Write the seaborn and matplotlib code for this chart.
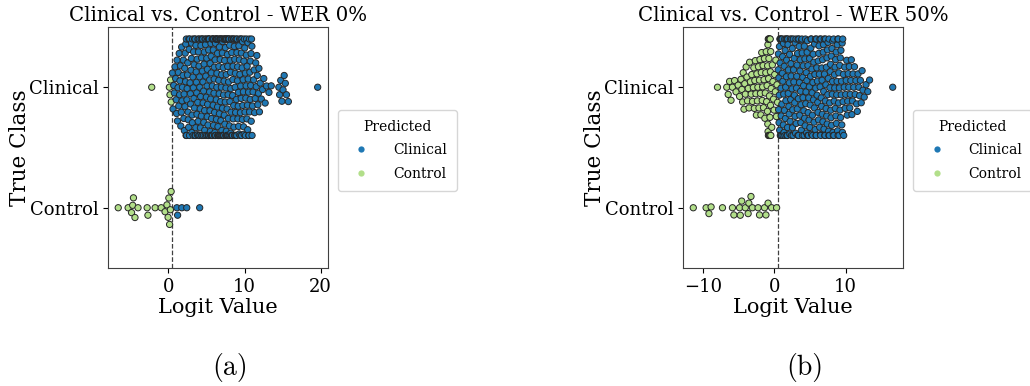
import matplotlib
matplotlib.use("Agg")
import matplotlib.pyplot as plt
import pandas as pd
import seaborn as sns
from matplotlib.lines import Line2D

# Logit values per true class, WER 0%
wer0_clinical = [
    -2.2, 0.12, 0.2, 0.28, 0.36,
    0.52, 0.6, 0.69, 0.77, 0.86, 0.94,
    1.02, 1.07, 1.13, 1.18, 1.25, 1.29, 1.35, 1.41, 1.46, 1.5, 1.57, 1.62, 1.69, 1.73, 1.78,
    1.84, 1.91, 1.96,
    2.02, 2.05, 2.09, 2.13, 2.16, 2.2, 2.24, 2.27, 2.31, 2.35, 2.38, 2.42, 2.45, 2.5, 2.53,
    2.57, 2.6, 2.65, 2.68, 2.71, 2.76, 2.79, 2.83, 2.88, 2.91, 2.96,
    3.01, 3.04, 3.08, 3.11, 3.14, 3.17, 3.21, 3.24, 3.27, 3.3, 3.34, 3.37, 3.41, 3.44, 3.47,
    3.5, 3.54, 3.58, 3.6, 3.64, 3.67, 3.71, 3.74, 3.77, 3.8, 3.84, 3.88, 3.9, 3.94, 3.97,
    4.01, 4.04, 4.08, 4.11, 4.13, 4.17, 4.2, 4.22, 4.26, 4.29, 4.32, 4.35, 4.37, 4.41, 4.44, 4.46,
    4.5, 4.53, 4.55, 4.59, 4.62, 4.64, 4.68, 4.71, 4.74, 4.76, 4.8, 4.83, 4.87, 4.9, 4.93, 4.97,
    5.01, 5.03, 5.06, 5.09, 5.11, 5.14, 5.15, 5.19, 5.22, 5.24, 5.27, 5.28, 5.32, 5.35, 5.37,
    5.4, 5.41, 5.45, 5.48, 5.5, 5.53, 5.54, 5.58, 5.61, 5.63, 5.66, 5.67, 5.71, 5.74, 5.76,
    5.79, 5.8, 5.84, 5.87, 5.89, 5.92, 5.95, 5.98,
    6.0, 6.02, 6.05, 6.06, 6.1, 6.13, 6.14, 6.18, 6.2, 6.21, 6.25, 6.28, 6.3, 6.31, 6.35,
    6.37, 6.4, 6.44, 6.45, 6.47, 6.5, 6.53, 6.56, 6.57, 6.6, 6.62, 6.66, 6.69, 6.7, 6.72,
    6.75, 6.79, 6.8, 6.82, 6.85, 6.88, 6.9, 6.93, 6.95, 6.99,
    7.01, 7.03, 7.04, 7.08, 7.1, 7.12, 7.15, 7.17, 7.2, 7.24, 7.25, 7.27, 7.3, 7.33, 7.36,
    7.38, 7.4, 7.42, 7.46, 7.48, 7.5, 7.52, 7.55, 7.59, 7.6, 7.63, 7.65, 7.67, 7.7, 7.74,
    7.76, 7.78, 7.8, 7.83, 7.86, 7.87, 7.9, 7.93, 7.96, 7.98,
    8.02, 8.04, 8.07, 8.1, 8.12, 8.15, 8.18, 8.2, 8.23, 8.27, 8.29, 8.31, 8.34, 8.38, 8.4,
    8.43, 8.46, 8.48, 8.51, 8.54, 8.57, 8.6, 8.62, 8.65, 8.68, 8.71, 8.73, 8.76, 8.79, 8.82,
    8.85, 8.87, 8.9, 8.93, 8.96, 8.99,
    9.03, 9.06, 9.09, 9.12, 9.16, 9.19, 9.22, 9.25, 9.29, 9.32, 9.35, 9.38, 9.42, 9.45, 9.48,
    9.51, 9.55, 9.58, 9.61, 9.64, 9.68, 9.71, 9.74, 9.77, 9.81, 9.84, 9.87, 9.9, 9.94, 9.97,
    10.02, 10.05, 10.1, 10.12, 10.16, 10.2, 10.23, 10.26, 10.31, 10.33, 10.37, 10.41, 10.44,
    10.47, 10.52, 10.55, 10.58, 10.63, 10.65, 10.69, 10.74, 10.76, 10.8, 10.85, 10.87, 10.91,
    10.96, 10.98,
    11.04, 11.11, 11.19, 11.25, 11.32, 11.4, 11.46, 11.53, 11.61, 11.67, 11.74, 11.82, 11.88, 11.95,
    12.05, 12.2, 12.36, 12.52, 12.7, 12.88,
    13.2, 13.5,
    14.5, 14.6, 14.75, 14.9, 15.05, 15.2, 15.35, 15.5, 15.75,
    19.6,
]
wer0_control = [
    -6.6, -5.3, -4.85, -4.7, -4.6, -4.4, -4.0, -2.8, -2.7, -1.75, -0.95, -0.45,
    -0.2, -0.05, 0.05, 0.15, 0.25, 0.35,
    1.1, 1.2, 1.75, 2.4, 4.1,
]

# Logit values per true class, WER 50%
wer50_clinical = [
    -8.0,
    -6.7, -6.5, -6.3, -6.1, -5.9, -5.6, -5.4, -5.1, -4.9, -4.7,
    -4.58, -4.47, -4.39, -4.28, -4.17, -4.09, -3.98, -3.87, -3.79, -3.68, -3.57, -3.49, -3.38,
    -3.27, -3.19, -3.08,
    -2.97, -2.9, -2.83, -2.76, -2.69, -2.61, -2.54, -2.47, -2.4, -2.33, -2.25, -2.18, -2.11, -2.04,
    -1.97, -1.91, -1.85, -1.79, -1.72, -1.66, -1.6, -1.54, -1.47, -1.41, -1.35, -1.29, -1.22,
    -1.16, -1.1, -1.04,
    -0.99, -0.96, -0.94, -0.92, -0.9, -0.87, -0.85, -0.83, -0.8, -0.78, -0.76, -0.73, -0.71,
    -0.69, -0.66, -0.64, -0.62, -0.6, -0.57, -0.55, -0.53, -0.51,
    -0.46, -0.38, -0.3, -0.22, -0.14, -0.06, 0.03, 0.11, 0.19, 0.27, 0.35, 0.43,
    0.52, 0.55, 0.58, 0.61, 0.64, 0.67, 0.7, 0.73, 0.76, 0.79, 0.82, 0.85, 0.88, 0.91, 0.94, 0.97,
    1.01, 1.04, 1.08, 1.11, 1.14, 1.17, 1.21, 1.24, 1.27, 1.3, 1.34, 1.37, 1.4, 1.44, 1.47,
    1.5, 1.53, 1.57, 1.6, 1.63, 1.67, 1.7, 1.73, 1.76, 1.8, 1.83, 1.86, 1.9, 1.93, 1.96,
    2.01, 2.05, 2.08, 2.12, 2.16, 2.19, 2.23, 2.27, 2.31, 2.34, 2.38, 2.42, 2.46, 2.5, 2.53,
    2.57, 2.61, 2.65, 2.68, 2.72, 2.76, 2.8, 2.84, 2.88, 2.92, 2.96,
    3.02, 3.05, 3.09, 3.13, 3.17, 3.2, 3.24, 3.28, 3.32, 3.36, 3.39, 3.43, 3.47, 3.51, 3.55,
    3.58, 3.62, 3.66, 3.7, 3.74, 3.78, 3.81, 3.85, 3.89, 3.93, 3.97,
    4.01, 4.04, 4.08, 4.12, 4.16, 4.19, 4.23, 4.27, 4.31, 4.35, 4.39, 4.42, 4.46, 4.5, 4.54,
    4.58, 4.62, 4.65, 4.69, 4.73, 4.77, 4.81, 4.85, 4.89, 4.93, 4.97,
    5.02, 5.06, 5.1, 5.13, 5.17, 5.21, 5.25, 5.29, 5.32, 5.36, 5.4, 5.44, 5.48, 5.52, 5.56,
    5.6, 5.63, 5.67, 5.71, 5.75, 5.79, 5.83, 5.87, 5.9, 5.94, 5.98,
    6.03, 6.07, 6.11, 6.14, 6.18, 6.22, 6.26, 6.3, 6.34, 6.38, 6.41, 6.45, 6.49, 6.53, 6.57,
    6.61, 6.65, 6.68, 6.72, 6.76, 6.8, 6.84, 6.88, 6.91, 6.95, 6.99,
    7.02, 7.06, 7.1, 7.14, 7.17, 7.21, 7.25, 7.29, 7.33, 7.37, 7.4, 7.44, 7.48, 7.52, 7.56,
    7.6, 7.64, 7.67, 7.71, 7.75, 7.79, 7.83, 7.87, 7.9, 7.94, 7.98,
    8.03, 8.07, 8.11, 8.15, 8.18, 8.22, 8.26, 8.3, 8.34, 8.38, 8.42, 8.46, 8.5, 8.54, 8.58,
    8.62, 8.66, 8.7, 8.74, 8.78, 8.82, 8.86, 8.9, 8.93, 8.96, 8.99,
    9.03, 9.07, 9.11, 9.16, 9.2, 9.24, 9.28, 9.33, 9.37, 9.41, 9.45, 9.5, 9.54, 9.58, 9.63, 9.68,
    9.72, 9.79, 9.86, 9.93, 10.0, 10.07, 10.14, 10.21, 10.28, 10.35, 10.43, 10.5, 10.57,
    10.64, 10.72, 10.79, 10.87, 10.95,
    11.03, 11.13, 11.23, 11.33, 11.43, 11.53, 11.63, 11.73, 11.84, 11.95, 12.06, 12.18,
    12.3, 12.42,
    12.6, 12.85, 13.1, 13.35,
    16.6,
]
wer50_control = [
    -11.4, -9.6, -9.2, -8.9, -7.3, -5.9, -5.7, -4.9, -4.8, -4.6, -4.1,
    -3.7, -3.6, -3.3, -3.1, -2.3, -2.1, -1.4, -1.2, -0.9, -0.4, 0.3,
]

classes = ["Clinical", "Control"]
titles = ["Clinical vs. Control - WER 0%", "Clinical vs. Control - WER 50%"]
captions = ["(a)", "(b)"]
threshold = 0.5

palette = sns.color_palette("Paired")
class_colors = {"Clinical": palette[1], "Control": palette[2]}

plt.rcParams["font.family"] = "DejaVu Serif"


def build_frame(clinical, control):
    logits = list(clinical) + list(control)
    true_cls = ["Clinical"] * len(clinical) + ["Control"] * len(control)
    pred_cls = ["Clinical" if v > threshold else "Control" for v in logits]
    return pd.DataFrame({"Logit": logits, "True": true_cls, "Predicted": pred_cls})


frames = [build_frame(wer0_clinical, wer0_control),
          build_frame(wer50_clinical, wer50_control)]

fig = plt.figure(figsize=(10.3, 3.86), dpi=100)
final_rects = [[0.1051, 0.3057, 0.2130, 0.6244],
               [0.6634, 0.3057, 0.2130, 0.6244]]
caption_x = [0.223, 0.781]
# the swarm layout is computed on a wider panel, then the panel is narrowed,
# so neighbouring dots overlap along the value axis
layout_stretch = 1.0 / 0.62

axes = []
for rect, df in zip(final_rects, frames):
    wide = [rect[0], rect[1], rect[2] * layout_stretch, rect[3]]
    ax = fig.add_axes(wide)
    sns.swarmplot(data=df, x="Logit", y="True", hue="Predicted",
                  order=classes, hue_order=classes, palette=class_colors,
                  size=4.5, edgecolor="0.15", linewidth=0.7, orient="h",
                  legend=False, ax=ax)
    axes.append(ax)

fig.canvas.draw()
for ax, rect in zip(axes, final_rects):
    for coll in ax.collections:
        if "draw" in coll.__dict__:
            del coll.draw
    ax.set_xlim(ax.get_xlim())
    ax.set_position(rect)

for ax, title, cap, cx in zip(axes, titles, captions, caption_x):
    ax.axvline(threshold, color="0.25", linestyle="--", linewidth=0.9)
    ax.set_title(title, fontsize=14.2, pad=4)
    ax.set_xlabel("Logit Value", fontsize=15, labelpad=2)
    ax.set_ylabel("True Class", fontsize=15.5, labelpad=-2)
    ax.tick_params(labelsize=13)
    for sp in ax.spines.values():
        sp.set_color("0.25")

    handles = [Line2D([0], [0], marker="o", linestyle="none", markersize=4.5,
                      markerfacecolor=class_colors[c], markeredgewidth=0)
               for c in classes]
    ax.legend(handles, classes, title="Predicted", loc="upper left",
              bbox_to_anchor=(1.015, 0.685), fontsize=10, title_fontsize=10,
              handletextpad=1.3, labelspacing=0.7, borderpad=0.7, frameon=True)

    fig.text(cx, 0.047, cap, fontsize=20, family="cmr10", ha="center", va="center")

fig.savefig("out.png", dpi=100)
